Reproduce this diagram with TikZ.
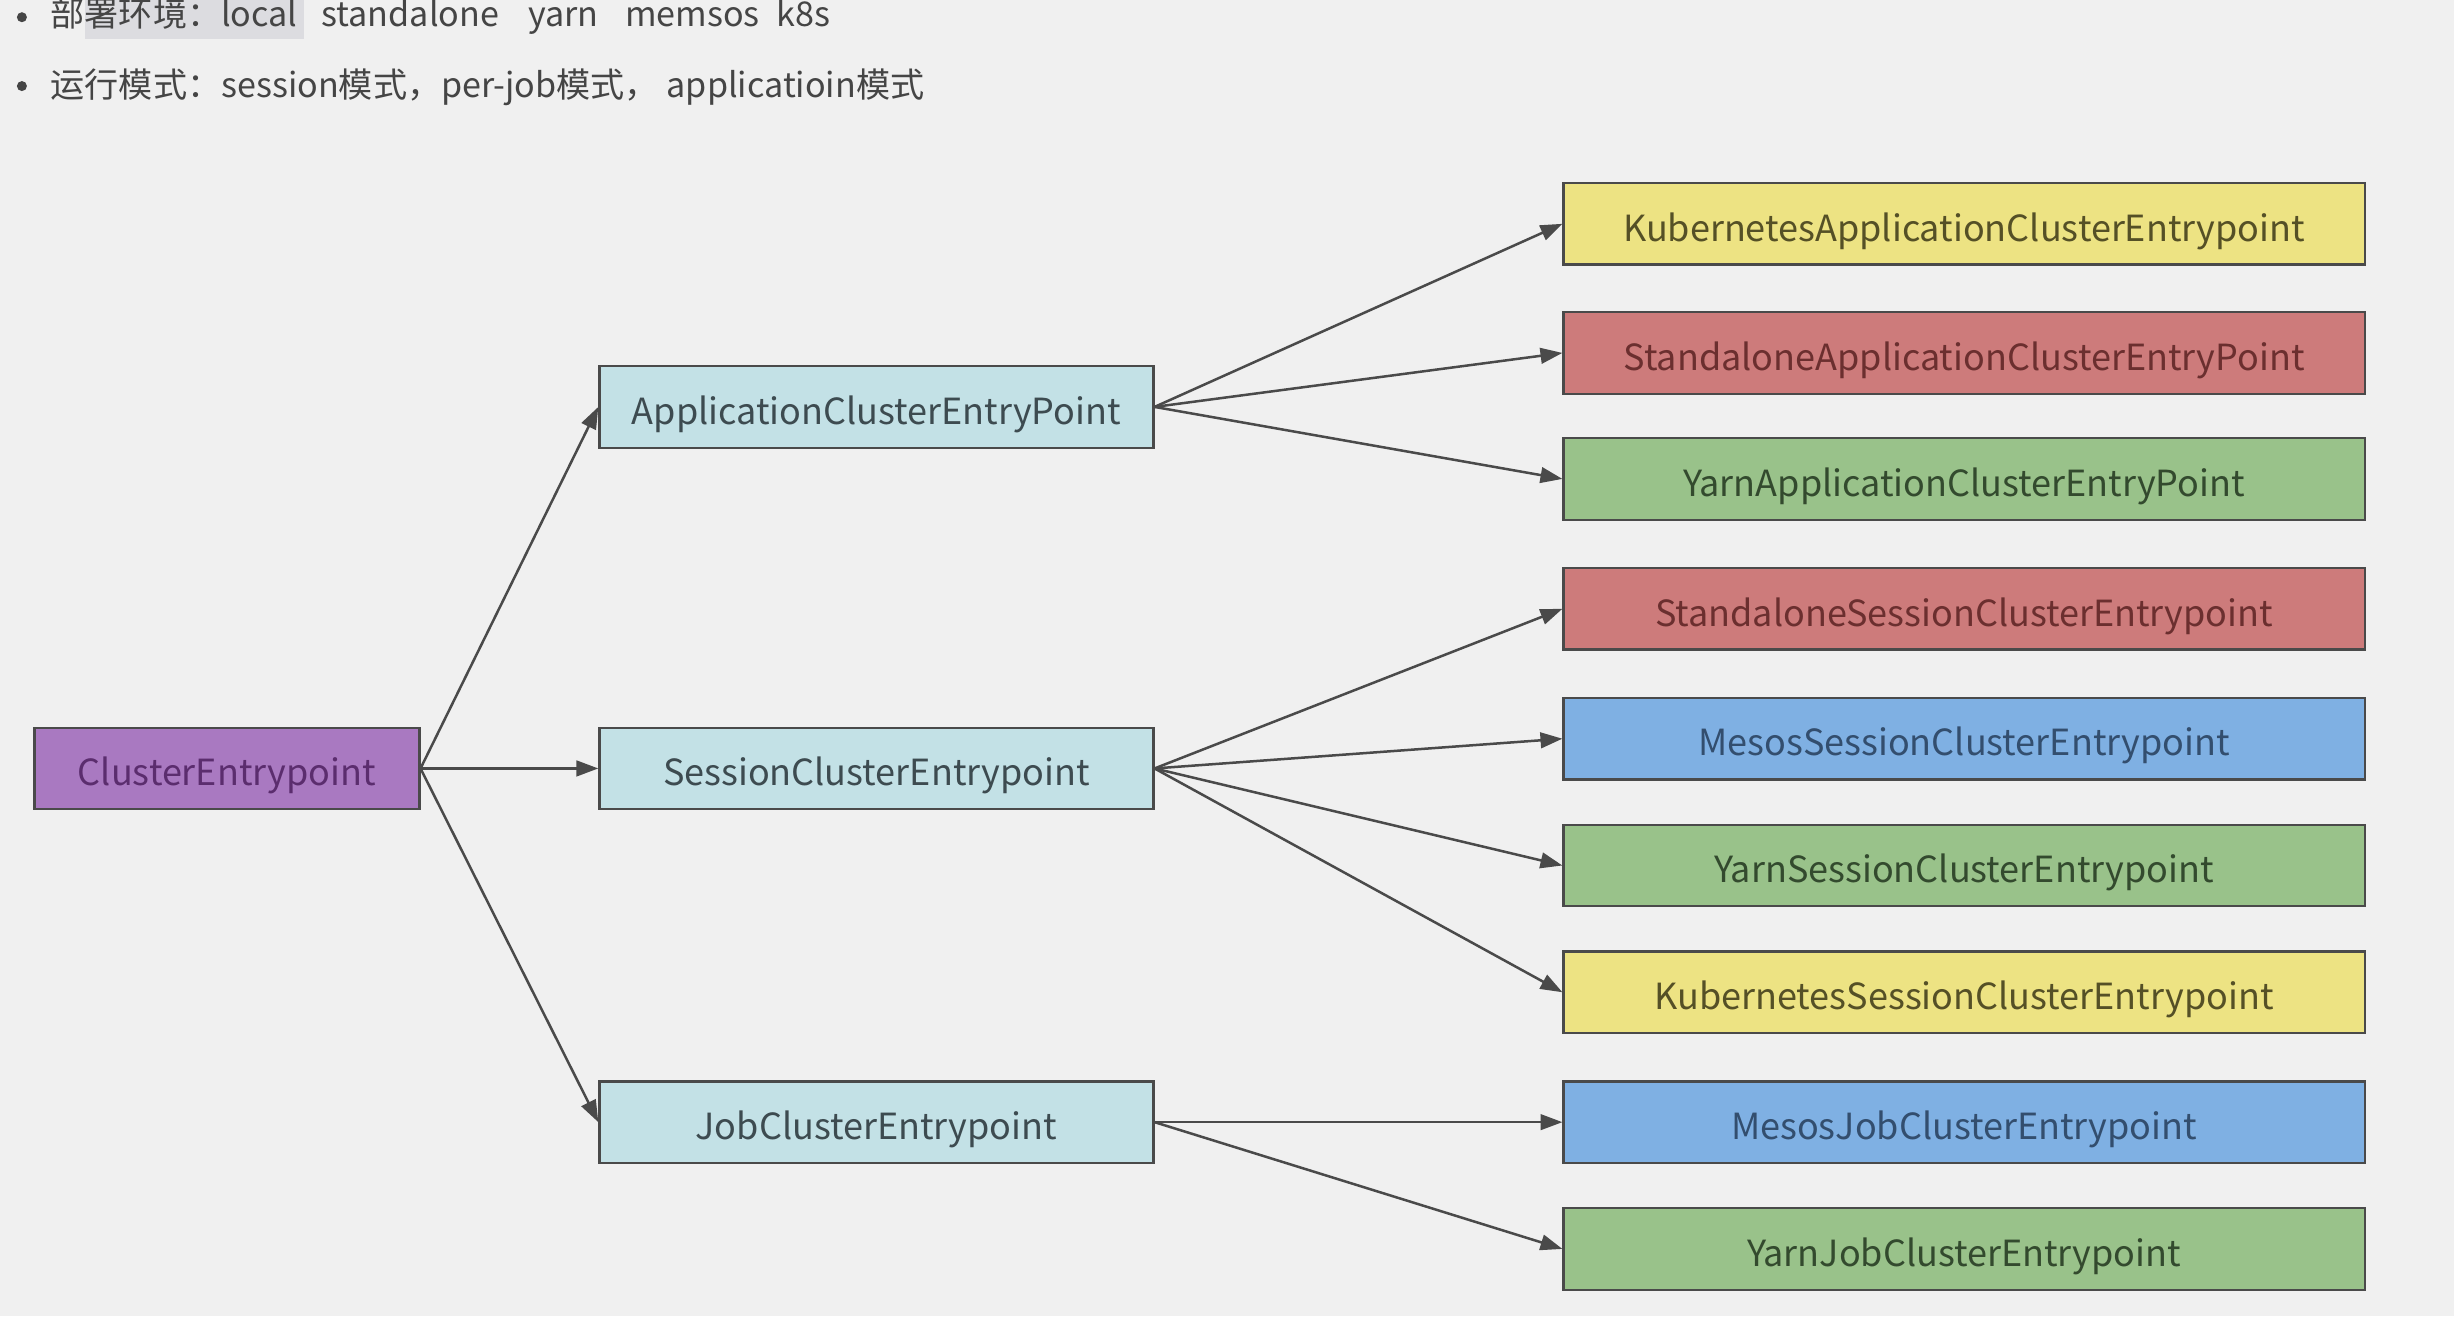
\documentclass[tikz,border=0pt]{standalone}
\usepackage{fontspec}
\setmainfont{Noto Sans CJK SC}
\usetikzlibrary{arrows.meta}
\definecolor{bg}{HTML}{F0F0F0}
\definecolor{hl}{HTML}{DCDCE0}
\definecolor{txt}{HTML}{454545}
\definecolor{edge}{HTML}{4A4A4A}
\definecolor{cpurple}{HTML}{A979C1}
\definecolor{tpurple}{HTML}{5B2D6E}
\definecolor{clb}{HTML}{C3E1E6}
\definecolor{tlb}{HTML}{3D4B50}
\definecolor{cyellow}{HTML}{EDE383}
\definecolor{tyellow}{HTML}{555026}
\definecolor{cred}{HTML}{CD7B7B}
\definecolor{tred}{HTML}{6B2F2F}
\definecolor{cgreen}{HTML}{99C28A}
\definecolor{tgreen}{HTML}{334A2E}
\definecolor{cblue}{HTML}{7FB0E3}
\definecolor{tblue}{HTML}{334E6E}
\begin{document}
\begin{tikzpicture}[x=0.5pt,y=-0.5pt,
  every node/.style={inner sep=0pt},
  box/.style={draw=edge, line width=0.7pt, rectangle, minimum height=26pt,
    font=\fontsize{11.5pt}{13pt}\selectfont, text height=12pt, text depth=1pt},
  rootbox/.style={box, fill=cpurple, text=tpurple, minimum width=123pt},
  midbox/.style={box, fill=clb, text=tlb, minimum width=177pt},
  leafbox/.style={box, minimum width=256pt},
  yel/.style={leafbox, fill=cyellow, text=tyellow},
  rd/.style={leafbox, fill=cred, text=tred},
  grn/.style={leafbox, fill=cgreen, text=tgreen},
  blu/.style={leafbox, fill=cblue, text=tblue},
  arr/.style={draw=edge, line width=0.8pt, -{Triangle[length=7pt,width=5pt]}},
  line/.style={text=txt, anchor=base west, font=\fontsize{10.9pt}{13pt}\selectfont}
]
\useasboundingbox (0,0) rectangle (1568,841);
\fill[bg] (0,0) rectangle (1568,841);
% header
\fill[hl] (54,0) rectangle (194,25);
\fill[txt] (14,11) circle (1.6pt);
\fill[txt] (14,55) circle (1.6pt);
\node[line] (h1) at (32,17) {部署环境：local};
\node[line] (h2) at (205,17) {standalone};
\node[line] (h3) at (337,17) {yarn};
\node[line] (h4) at (399,17) {memsos};
\node[line] (h5) at (496,17) {k8s};
\node[line] (l2) at (32,62) {运行模式：session模式，per-job模式， applicatioin模式};
% nodes
\node[rootbox] (ce) at (145,491) {ClusterEntrypoint};
\node[midbox] (app) at (560,260) {ApplicationClusterEntryPoint};
\node[midbox] (ses) at (560,491) {SessionClusterEntrypoint};
\node[midbox] (job) at (560,717) {JobClusterEntrypoint};
\node[yel] (ka) at (1255,143) {KubernetesApplicationClusterEntrypoint};
\node[rd]  (sa) at (1255,225.5) {StandaloneApplicationClusterEntryPoint};
\node[grn] (ya) at (1255,306) {YarnApplicationClusterEntryPoint};
\node[rd]  (ss) at (1255,389) {StandaloneSessionClusterEntrypoint};
\node[blu] (ms) at (1255,472) {MesosSessionClusterEntrypoint};
\node[grn] (ys) at (1255,553) {YarnSessionClusterEntrypoint};
\node[yel] (ks) at (1255,634) {KubernetesSessionClusterEntrypoint};
\node[blu] (mj) at (1255,717) {MesosJobClusterEntrypoint};
\node[grn] (yj) at (1255,798) {YarnJobClusterEntrypoint};
% connectors
\draw[arr] (ce.east) -- (app.west);
\draw[arr] (ce.east) -- (ses.west);
\draw[arr] (ce.east) -- (job.west);
\draw[arr] (app.east) -- (ka.west);
\draw[arr] (app.east) -- (sa.west);
\draw[arr] (app.east) -- (ya.west);
\draw[arr] (ses.east) -- (ss.west);
\draw[arr] (ses.east) -- (ms.west);
\draw[arr] (ses.east) -- (ys.west);
\draw[arr] (ses.east) -- (ks.west);
\draw[arr] (job.east) -- (mj.west);
\draw[arr] (job.east) -- (yj.west);
\end{tikzpicture}
\end{document}
